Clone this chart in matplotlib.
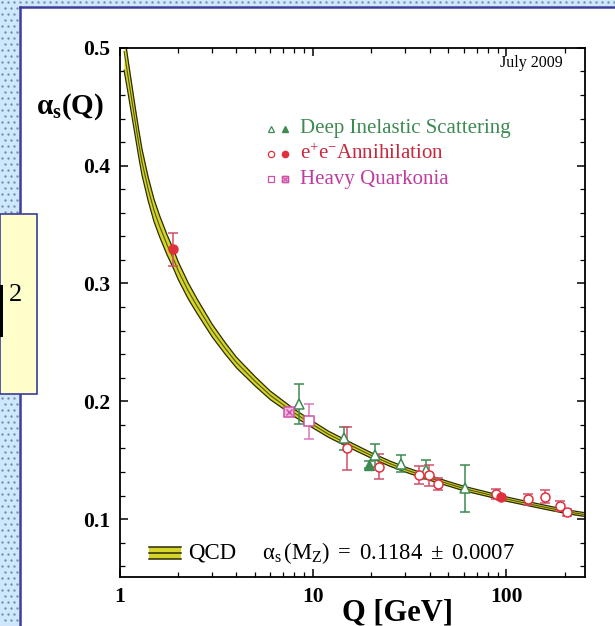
import numpy as np
import matplotlib
matplotlib.use('Agg')
import matplotlib.pyplot as plt
from matplotlib.patches import Rectangle
from matplotlib.ticker import MultipleLocator, NullFormatter

plt.rcParams['font.family'] = ['Liberation Serif', 'DejaVu Serif']
plt.rcParams['mathtext.fontset'] = 'custom'
plt.rcParams['mathtext.rm'] = 'Liberation Serif'
plt.rcParams['mathtext.it'] = 'Liberation Serif:italic'
plt.rcParams['mathtext.bf'] = 'Liberation Serif:bold'

# QCD band
qcd_q = [1.05, 1.1, 1.15, 1.2, 1.25, 1.3, 1.4, 1.5, 1.6, 1.75, 1.9, 2, 2.25, 2.5, 3, 3.5,
         4, 5, 6, 7, 8, 10, 12, 15, 20, 25, 30, 40, 50, 60, 80, 100, 130, 170, 210, 250]
qcd_a = [0.497, 0.476, 0.456, 0.437, 0.419, 0.403, 0.380, 0.362, 0.349, 0.333, 0.320,
         0.311, 0.294, 0.281, 0.260, 0.245, 0.233, 0.217, 0.205, 0.197, 0.190, 0.180,
         0.172, 0.164, 0.154, 0.147, 0.142, 0.135, 0.130, 0.126, 0.121, 0.117, 0.113,
         0.109, 0.106, 0.104]
qcd_hw = [0.016, 0.014, 0.013, 0.012, 0.0115, 0.011, 0.010, 0.0095, 0.009, 0.0085, 0.008,
          0.0075, 0.0068, 0.0062, 0.0054, 0.0049, 0.0045, 0.004, 0.0036, 0.0033, 0.0031,
          0.0028, 0.0026, 0.0025, 0.0023, 0.0022, 0.0021, 0.002, 0.0019, 0.0019, 0.0018,
          0.0018, 0.0017, 0.0017, 0.0016, 0.0016]

# deep inelastic scattering
dis_open_q = [8.45, 14.4, 20.8, 28.4, 38.5, 60.8]
dis_open_a = [0.198, 0.1685, 0.154, 0.147, 0.142, 0.126]
dis_open_err = [0.017, 0.010, 0.010, 0.007, 0.008, 0.020]
dis_fill_q = [19.4]
dis_fill_a = [0.146]
dis_fill_err = [0.003]

# e+e- annihilation
ee_open_q = [14.9, 22.0, 35.1, 39.5, 44.1, 88.4, 129.5, 159, 190, 206]
ee_open_a = [0.160, 0.1444, 0.1373, 0.1373, 0.1295, 0.1212, 0.1167, 0.119, 0.111, 0.1057]
ee_open_err = [0.018, 0.0105, 0.0075, 0.009, 0.005, 0.004, 0.0047, 0.0055, 0.0045, 0.003]
ee_fill_q = [1.87, 93.9]
ee_fill_a = [0.329, 0.1184]
ee_fill_err = [0.014, 0.002]

# heavy quarkonia
hq_open_q = [9.55]
hq_open_a = [0.183]
hq_open_err = [0.015]
hq_cross_q = [7.5]
hq_cross_a = [0.1905]
hq_cross_err = [0.003]

green = '#3d8a52'
red = '#e0303e'
pink = '#d050a8'
band_yellow = '#d4d42a'
band_edge = '#2b2b05'

fig = plt.figure(figsize=(6.15, 6.26), dpi=100)

# slide background
bg = fig.add_axes([0, 0, 1, 1], zorder=-1)
bg.set_xlim(0, 615)
bg.set_ylim(626, 0)
bg.axis('off')
bg.add_patch(Rectangle((0, 0), 19, 626, color='#cfe7fb', lw=0))
bg.add_patch(Rectangle((0, 0), 615, 6, color='#cfe7fb', lw=0))
dx, dy = [], []
for i, yy in enumerate(np.arange(2, 626, 6)):
    xs = np.arange(2 + 3 * (i % 2), 18, 6) if yy > 6 else np.arange(2 + 3 * (i % 2), 615, 6)
    dx += list(xs)
    dy += [yy] * len(xs)
bg.scatter(dx, dy, s=3, color='#7590aa', lw=0)
bg.plot([19.5, 19.5], [6.5, 626], color='#3c3c9c', lw=1.8)
bg.plot([19.5, 615], [6.5, 6.5], color='#3c3c9c', lw=1.8)
bg.add_patch(Rectangle((0, 214), 36.5, 180, facecolor='#ffffcc', edgecolor='#3c3c9c', lw=1.2, zorder=3))
bg.add_patch(Rectangle((0, 285), 3, 52, color='black', lw=0, zorder=4))
bg.text(9, 301, '2', fontsize=19, ha='left', va='baseline', zorder=4)

ax = fig.add_axes([120 / 615, 1 - 576.8 / 626, 465 / 615, 528.9 / 626])
ax.set_xscale('log')
ax.set_xlim(1, 255)
ax.set_ylim(0.051, 0.5)

lo = np.array(qcd_a) - np.array(qcd_hw)
hi = np.array(qcd_a) + np.array(qcd_hw)
ax.fill_between(qcd_q, lo, hi, color=band_yellow, lw=0, zorder=2)
ax.plot(qcd_q, lo, color=band_edge, lw=0.9, zorder=2)
ax.plot(qcd_q, hi, color=band_edge, lw=0.9, zorder=2)
ax.plot(qcd_q, qcd_a, color='#55550a', lw=0.8, zorder=2)

eb = dict(capsize=3.5, elinewidth=1.1, capthick=1.1, ls='none', zorder=3)
ax.errorbar(dis_open_q, dis_open_a, yerr=dis_open_err, fmt='^', ms=6.5, mfc='white',
            mec=green, ecolor=green, mew=1.1, **eb)
ax.errorbar(dis_fill_q, dis_fill_a, yerr=dis_fill_err, fmt='^', ms=6.5, mfc=green,
            mec=green, ecolor=green, **eb)
ax.errorbar(ee_open_q, ee_open_a, yerr=ee_open_err, fmt='o', ms=6.5, mfc='white',
            mec=red, ecolor='#d0506a', mew=1.1, **eb)
ax.errorbar(ee_fill_q, ee_fill_a, yerr=ee_fill_err, fmt='o', ms=6.5, mfc=red,
            mec=red, ecolor='#d0506a', **eb)
ax.errorbar(hq_open_q, hq_open_a, yerr=hq_open_err, fmt='s', ms=6.5, mfc='white',
            mec=pink, ecolor='#d878b8', mew=1.1, **eb)
ax.errorbar(hq_cross_q, hq_cross_a, yerr=hq_cross_err, fmt='s', ms=6.5, mfc='#f0b8e0',
            mec=pink, ecolor=pink, mew=1.1, **eb)
ax.plot(hq_cross_q, hq_cross_a, 'x', ms=5, mec=pink, mew=1.0, zorder=4)

# legend, top
rows = [(0.847, 'Deep Inelastic Scattering', green, '^'),
        (0.800, r'e$^{+}$e$^{-}$Annihilation', '#c8283c', 'o'),
        (0.752, 'Heavy Quarkonia', '#c03c9c', 's')]
for yy, label, col, mk in rows:
    mcol = {'^': green, 'o': red, 's': pink}[mk]
    ax.plot([0.325], [yy], mk, ms=4.5, mfc='white', mec=mcol, mew=0.9, transform=ax.transAxes)
    ax.plot([0.355], [yy], mk, ms=4.5, mfc=mcol, mec=mcol, transform=ax.transAxes)
    if mk == 's':
        ax.plot([0.355], [yy], mk, ms=4.5, mfc='#f0b8e0', mec=mcol, transform=ax.transAxes)
        ax.plot([0.355], [yy], 'x', ms=3.5, mec=mcol, mew=0.8, transform=ax.transAxes)
    ax.text(0.387, yy, label, color=col, fontsize=15, va='center', ha='left',
            transform=ax.transAxes)

ax.text(0.884, 0.971, 'July 2009', fontsize=11.5, ha='center', va='center',
        transform=ax.transAxes)

# QCD legend, bottom
ax.add_patch(Rectangle((0.062, 0.033), 0.069, 0.024, facecolor=band_yellow, lw=0,
                       transform=ax.transAxes, zorder=3))
for yy in (0.034, 0.045, 0.056):
    ax.plot([0.062, 0.131], [yy, yy], color=band_edge, lw=1.1, transform=ax.transAxes, zorder=4)
ax.text(0.146, 0.045, 'QCD', fontsize=16.5, va='center', ha='left', transform=ax.transAxes)
ax.text(0.305, 0.045, r'$\mathrm{\alpha}_{\mathrm{s}}\,(\mathrm{M}_{\mathrm{Z}})\ =\ 0.1184\ \pm\ 0.0007$',
        fontsize=16.3, va='center', ha='left', transform=ax.transAxes)

# axes styling
ax.set_yticks([0.1, 0.2, 0.3, 0.4, 0.5])
ax.set_yticklabels(['0.1', '0.2', '0.3', '0.4', '0.5'], fontweight='bold', fontsize=15.5)
ax.yaxis.set_minor_locator(MultipleLocator(0.02))
ax.set_xticks([1, 10, 100])
ax.set_xticklabels(['1', '10', '100'], fontweight='bold', fontsize=15.5)
ax.xaxis.set_minor_formatter(NullFormatter())
ax.tick_params(which='both', direction='in', top=True, right=True)
ax.tick_params(which='major', length=6, width=1.1, pad=7)
ax.tick_params(which='minor', length=3.5, width=0.9)
for sp in ax.spines.values():
    sp.set_linewidth(1.3)

fig.text(36 / 615, 1 - 107 / 626, r'$\mathbf{\alpha_s}$' + r'$\mathbf{(Q)}$', fontsize=21,
         ha='left', va='center')
fig.text(397 / 615, 6 / 626, 'Q [GeV]', fontsize=22, fontweight='bold', ha='center',
         va='baseline')

fig.savefig('out.png', dpi=100)
